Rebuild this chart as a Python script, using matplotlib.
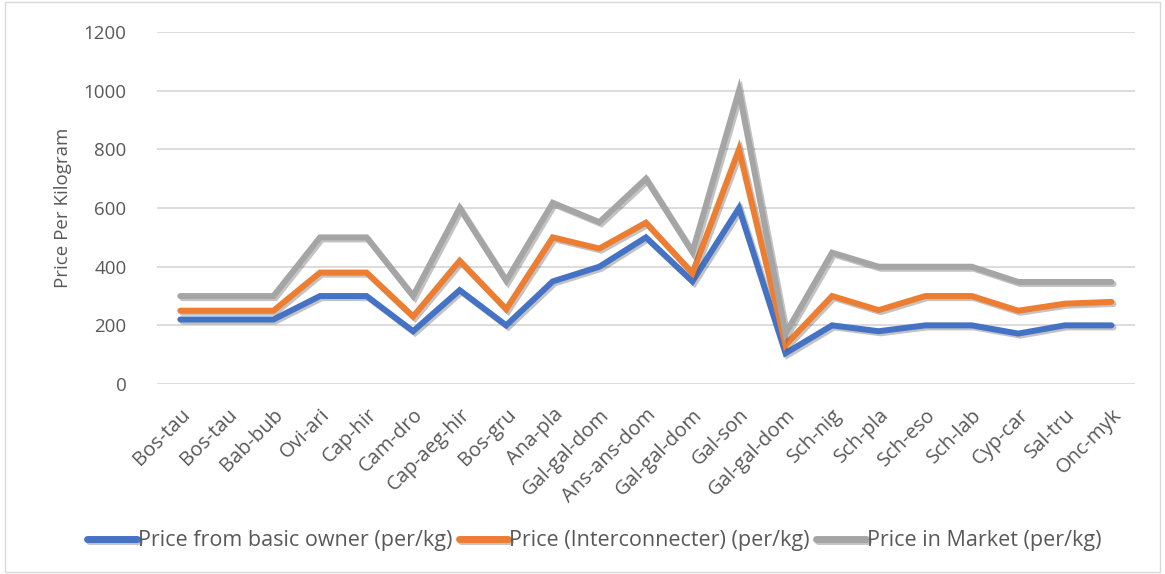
import matplotlib
matplotlib.use("Agg")
import matplotlib.pyplot as plt
import matplotlib.patheffects as pe

species = ["Bos-tau", "Bos-tau", "Bab-bub", "Ovi-ari", "Cap-hir", "Cam-dro",
           "Cap-aeg-hir", "Bos-gru", "Ana-pla", "Gal-gal-dom", "Ans-ans-dom",
           "Gal-gal-dom", "Gal-son", "Gal-gal-dom", "Sch-nig", "Sch-pla",
           "Sch-eso", "Sch-lab", "Cyp-car", "Sal-tru", "Onc-myk"]
owner_price = [220, 220, 220, 300, 300, 180, 320, 200, 350, 400, 500,
               350, 600, 105, 200, 180, 200, 200, 172, 200, 200]
middle_price = [250, 250, 250, 380, 380, 230, 420, 255, 500, 462, 550,
                378, 800, 133, 300, 252, 300, 300, 250, 274, 280]
market_price = [300, 300, 300, 500, 500, 300, 600, 352, 618, 552, 700,
                450, 1000, 172, 448, 400, 400, 400, 348, 348, 348]

plt.rcParams["font.family"] = ["Open Sans", "DejaVu Sans"]
txt = "#595959"

fig = plt.figure(figsize=(11.65, 5.74), dpi=100)
ax = fig.add_axes([0.1348, 0.331, 0.8392, 0.613])

shadow = [pe.SimpleLineShadow(offset=(1.5, -1.5), alpha=0.35, shadow_color="#555555"),
          pe.Normal()]
x = range(len(species))
series = [
    (owner_price, "#4472C4", "Price from basic owner (per/kg)"),
    (middle_price, "#ED7D31", "Price (Interconnecter) (per/kg)"),
    (market_price, "#A5A5A5", "Price in Market (per/kg)"),
]
for vals, col, lab in series:
    ax.plot(x, vals, color=col, lw=4.3, solid_capstyle="round",
            solid_joinstyle="miter", label=lab, path_effects=shadow)

ax.set_xlim(-0.5, len(species) - 0.5)
ax.set_ylim(0, 1200)
ax.set_yticks(range(0, 1201, 200))
ax.grid(axis="y", color="#d9d9d9", lw=1.3)
ax.set_axisbelow(True)
for s in ax.spines.values():
    s.set_visible(False)
ax.tick_params(axis="both", length=0, colors=txt)
ax.tick_params(axis="y", pad=22, labelsize=13.5)
ax.set_xticks(list(x))
ax.set_xticklabels(species, rotation=45, ha="right", rotation_mode="anchor")
ax.tick_params(axis="x", pad=15, labelsize=14.5)
ax.set_ylabel("Price Per Kilogram", color=txt, fontsize=13.5, labelpad=8)

leg = fig.legend(loc="center", bbox_to_anchor=(0.51, 0.058), ncol=3,
                 frameon=False, fontsize=15.5, handlelength=2.3,
                 handletextpad=0.05, columnspacing=0.3)
for t in leg.get_texts():
    t.set_color(txt)
for h in leg.get_lines():
    h.set_linewidth(5)

# chart frame
fig.patches.append(plt.Rectangle((0.004, 0.004), 0.992, 0.992, transform=fig.transFigure,
                                 fill=False, edgecolor="#d9d9d9", lw=1))

fig.savefig("out.png", dpi=100)
